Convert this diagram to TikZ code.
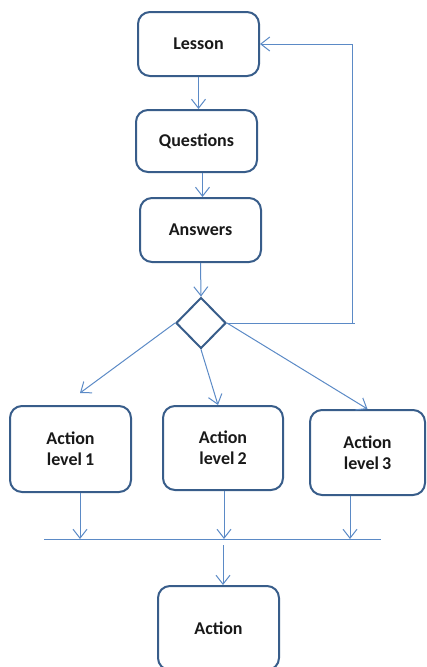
\documentclass[tikz,border=0pt]{standalone}
\usepackage{fontspec}
\setmainfont{Carlito}
\usetikzlibrary{positioning,shapes.geometric,arrows.meta}
\definecolor{boxline}{HTML}{385D8A}
\definecolor{conline}{HTML}{5B8AC6}

\begin{document}
\begin{tikzpicture}[
  x=1pt, y=-1pt,
  stepbox/.style={draw=boxline,line width=2pt,rounded corners=12pt,
    minimum width=121pt,minimum height=64pt,align=center,
    font=\fontsize{18}{21}\selectfont\bfseries,text=black!90},
  decide/.style={draw=boxline,line width=2pt,diamond,inner sep=0pt,
    minimum width=50pt,minimum height=51pt},
  con/.style={draw=conline,line width=1pt,-{Straight Barb[length=9pt,width=14pt]}},
  bar/.style={draw=conline,line width=1pt}
]
\useasboundingbox (0,0) rectangle (426,667);

\node[stepbox] (l) at (198.5,44) {Lesson};
\node[stepbox,minimum height=62pt] (q) at (196.5,141) {Questions};
\node[stepbox] (an) at (200.5,230) {Answers};
\node[decide] (d) at (201,323) {};
\node[stepbox,minimum height=86pt] (a1) at (70.5,449) {Action\\level\,1};
\node[stepbox,minimum width=120pt,minimum height=84pt] (a2) at (223,448) {Action\\level\,2};
\node[stepbox,minimum width=115pt,minimum height=85pt] (a3) at (367.5,452.5) {Action\\level\,3};
\node[stepbox,minimum height=84pt] (act) at (218.5,628) {Action};

\coordinate (t1) at (80,393);
\coordinate (fb) at (352,323);
\coordinate (busL) at (44,539);
\coordinate (busR) at (381,539);
\coordinate (bus) at (223,539);

\path[con] (l.south) -- (l.south |- q.north);
\path[con] ([xshift=6pt]q.south) -- ([xshift=6pt]q.south |- an.north);
\path[con] (an.south) -- (d.north);
\path[bar] (d.east) -- ([xshift=3pt]fb);
\path[con] (fb) |- (l.east);

\path[con] (d.west) -- (t1);
\path[con] (d.south) -- ([xshift=-5pt]a2.north);
\path[con] (d.east) -- (a3.north);

\path[bar] (busL) -- (busR);
\path[con] ([xshift=9.5pt]a1.south) -- ([xshift=9.5pt]a1.south |- bus);
\path[con] ([xshift=1pt]a2.south) -- ([xshift=1pt]a2.south |- bus);
\path[con] ([xshift=-17.5pt]a3.south) -- ([xshift=-17.5pt]a3.south |- bus);
\path[con] ([yshift=-6pt]bus) -- (bus |- act.north);
\end{tikzpicture}
\end{document}
